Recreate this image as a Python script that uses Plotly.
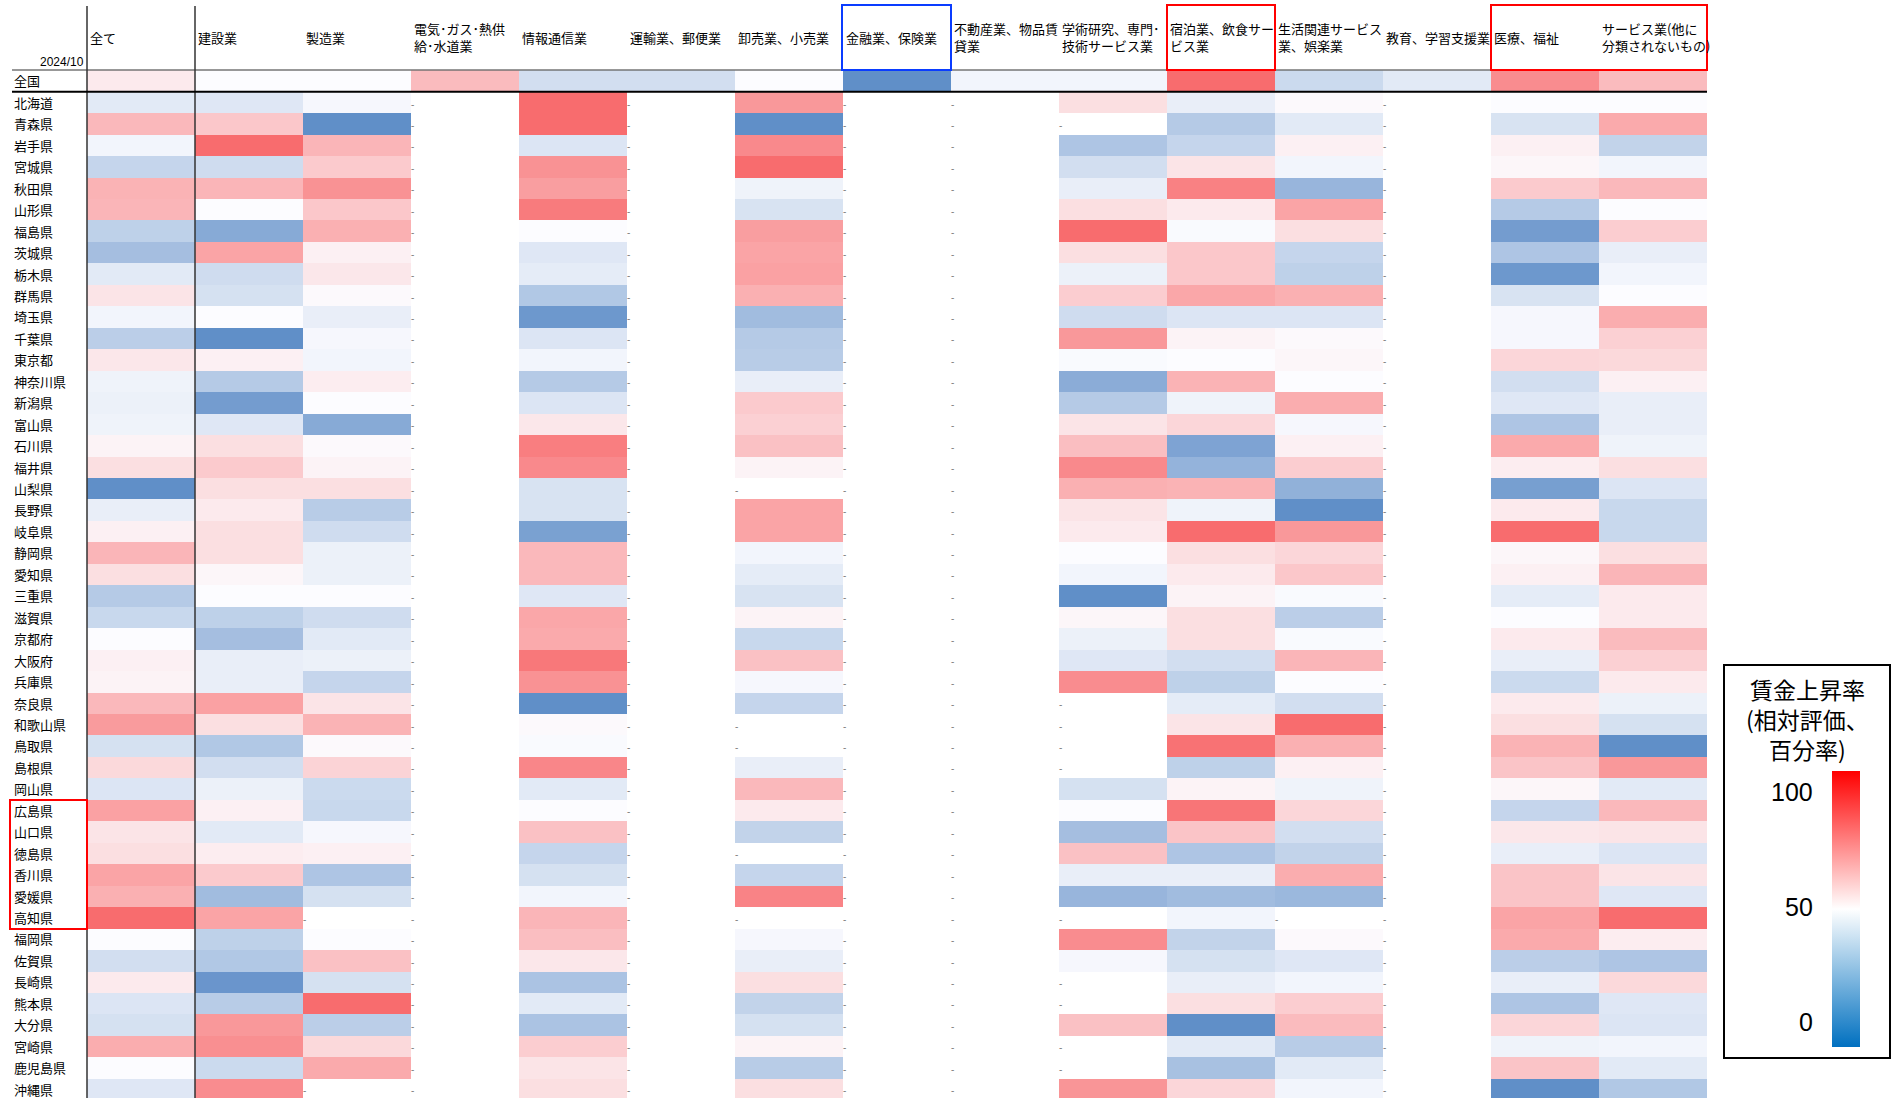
import plotly.graph_objects as go

W, H = 1894, 1098

industries = ["全て", "建設業", "製造業", "電気･ガス･熱供<br>給･水道業", "情報通信業",
              "運輸業、郵便業", "卸売業、小売業", "金融業、保険業", "不動産業、物品賃<br>貸業",
              "学術研究、専門･<br>技術サービス業", "宿泊業、飲食サー<br>ビス業",
              "生活関連サービス<br>業、娯楽業", "教育、学習支援業", "医療、福祉",
              "サービス業(他に<br>分類されないもの)"]

regions = ["全国", "北海道", "青森県", "岩手県", "宮城県", "秋田県", "山形県", "福島県", "茨城県",
           "栃木県", "群馬県", "埼玉県", "千葉県", "東京都", "神奈川県", "新潟県", "富山県",
           "石川県", "福井県", "山梨県", "長野県", "岐阜県", "静岡県", "愛知県", "三重県",
           "滋賀県", "京都府", "大阪府", "兵庫県", "奈良県", "和歌山県", "鳥取県", "島根県",
           "岡山県", "広島県", "山口県", "徳島県", "香川県", "愛媛県", "高知県", "福岡県",
           "佐賀県", "長崎県", "熊本県", "大分県", "宮崎県", "鹿児島県", "沖縄県"]

N = None
v_all = [56, 42, 73, 47, 33, 75, 74, 31, 23, 42, 58, 47, 30, 57, 46, 45, 46, 53, 60, 2, 44,
         54, 74, 60, 28, 34, 50, 54, 53, 73, 83, 38, 62, 40, 81, 58, 60, 80, 76, 99, 50,
         37, 56, 40, 38, 77, 50, 41]
v_construction = [50, 41, 68, 99, 36, 74, 50, 14, 80, 36, 38, 50, 2, 54, 28, 8, 41, 60, 67, 60, 56,
                  60, 60, 52, 50, 31, 23, 44, 44, 81, 60, 27, 37, 45, 54, 42, 55, 67, 22, 80, 31,
                  27, 5, 29, 84, 87, 35, 88]
v_manufacturing = [50, 48, 2, 74, 67, 86, 68, 76, 54, 57, 51, 44, 48, 47, 55, 50, 14, 51, 53, 60, 29,
                   36, 45, 45, 50, 36, 42, 45, 33, 58, 75, 51, 64, 35, 34, 48, 54, 26, 38, N, 50,
                   70, 38, 99, 30, 62, 78, N]
v_electricity = [72] + [N] * 47
v_info = [37, 99, 99, 40, 86, 82, 94, 50, 41, 43, 27, 6, 40, 47, 28, 40, 57, 93, 89, 39, 39,
          10, 73, 73, 41, 79, 78, 95, 86, 2, 51, 49, 90, 42, 50, 70, 33, 38, 47, 74, 71,
          57, 25, 42, 25, 66, 58, 60]
v_transport = [37] + [N] * 47
v_wholesale = [50, 84, 2, 89, 99, 46, 39, 82, 80, 81, 76, 22, 28, 29, 44, 67, 65, 70, 53, N, 80,
               80, 47, 43, 39, 53, 34, 70, 48, 33, N, N, 44, 73, 56, 32, N, 33, 91, N, 48,
               44, 60, 32, 38, 53, 29, 60]
v_finance = [2] + [N] * 47
v_realestate = [47] + [N] * 47
v_academic = [47, 60, N, 26, 37, 44, 60, 99, 60, 45, 66, 36, 84, 49, 15, 28, 58, 71, 89, 76, 58,
              56, 50, 47, 2, 52, 45, 41, 88, N, N, N, N, 38, 50, 23, 70, 44, 19, N, 88,
              48, N, N, 70, N, N, 85]
v_lodging = [99, 44, 28, 33, 58, 92, 56, 49, 68, 68, 79, 40, 53, 50, 75, 46, 63, 11, 18, 75, 46,
             99, 60, 56, 53, 60, 60, 37, 31, 43, 58, 97, 31, 53, 96, 69, 26, 44, 22, 47, 32,
             38, 44, 60, 2, 42, 24, 63]
v_lifestyle = [35, 51, 42, 54, 47, 19, 80, 60, 33, 31, 76, 40, 51, 52, 50, 77, 48, 54, 66, 17, 2,
               84, 63, 68, 49, 30, 49, 74, 50, 37, 99, 76, 54, 46, 63, 37, 32, 77, 20, N, 51,
               41, 47, 66, 72, 29, 42, 47]
v_education = [42] + [N] * 47
v_medical = [88, 50, 39, 54, 52, 67, 28, 8, 26, 6, 39, 48, 48, 63, 37, 41, 26, 78, 55, 9, 56,
             99, 52, 54, 43, 50, 56, 44, 35, 56, 60, 75, 69, 52, 33, 57, 44, 69, 69, 80, 78,
             30, 44, 26, 63, 46, 69, 2]
v_service = [72, 50, 78, 32, 47, 73, 50, 66, 44, 47, 50, 77, 65, 62, 54, 44, 44, 46, 60, 40, 34,
             34, 60, 74, 56, 56, 72, 65, 56, 45, 38, 2, 84, 42, 73, 58, 40, 58, 41, 99, 55,
             26, 62, 41, 40, 47, 42, 27]

columns = [v_all, v_construction, v_manufacturing, v_electricity, v_info, v_transport,
           v_wholesale, v_finance, v_realestate, v_academic, v_lodging, v_lifestyle,
           v_education, v_medical, v_service]

cb_ticks = [0, 50, 100]

nrows = len(regions)
ncols = len(industries)
z = [[columns[c][r] for c in range(ncols)] for r in range(nrows)]

# pixel helpers (layout only)
def px(x):
    return x / W

def py(y):
    return 1 - y / H

row_h = 21.45
top_px = 91.7 - row_h
left_px, right_px = 87, 1707
y_bottom = -0.5 + (H - top_px) / row_h

font_jp = "Noto Sans CJK JP, sans-serif"

fig = go.Figure()
fig.add_trace(go.Heatmap(
    z=z, x=list(range(ncols)), y=list(range(nrows)),
    zmin=0, zmax=100,
    colorscale=[[0, "#5A8AC6"], [0.5, "#FCFCFF"], [1, "#F8696B"]],
    showscale=False, xgap=0, ygap=0, hoverongaps=False,
))

# dashes for missing cells
dx, dy = [], []
for r in range(1, nrows):
    for c in range(ncols):
        if columns[c][r] is None:
            dx.append(c - 0.5)
            dy.append(r + 0.12)
fig.add_trace(go.Scatter(
    x=dx, y=dy, mode="text", text=["-"] * len(dx), textposition="middle right",
    textfont=dict(size=10, color="#7f7f7f", family="Liberation Sans"),
    showlegend=False, hoverinfo="skip",
))

# colorbar via invisible trace
fig.add_trace(go.Scatter(
    x=[0], y=[0], mode="markers", showlegend=False, hoverinfo="skip",
    marker=dict(size=1, opacity=0, color=[50], cmin=-11, cmax=109,
                colorscale=[[0, "#0070C0"], [0.5, "#FFFFFF"], [1, "#FF0000"]],
                showscale=True,
                colorbar=dict(x=px(1832), xanchor="left", y=py(771), yanchor="top",
                              len=276, lenmode="pixels", thickness=28, thicknessmode="pixels",
                              outlinewidth=0, showticklabels=False, ticks="",
                              xpad=0, ypad=0)),
))

fig.update_layout(
    width=W, height=H, autosize=False,
    margin=dict(l=0, r=0, t=0, b=0),
    paper_bgcolor="white", plot_bgcolor="white",
    xaxis=dict(domain=[px(left_px), px(right_px)], range=[-0.5, ncols - 0.5],
               showgrid=False, zeroline=False, showticklabels=False, ticks="", fixedrange=True),
    yaxis=dict(domain=[0, py(top_px)], range=[y_bottom, -0.5],
               showgrid=False, zeroline=False, showticklabels=False, ticks="", fixedrange=True),
    font=dict(family=font_jp, color="black"),
)

ann = []
# header labels
for c, name in enumerate(industries):
    ann.append(dict(x=c - 0.5, xref="x", xanchor="left", xshift=1,
                    y=py(37.5), yref="paper", yanchor="middle",
                    text=name, showarrow=False, align="left",
                    font=dict(size=13, family=font_jp, color="black")))
# row labels
for r, name in enumerate(regions):
    ann.append(dict(x=px(12), xref="paper", xanchor="left",
                    y=r, yref="y", yanchor="middle", text=name, showarrow=False,
                    font=dict(size=13, family=font_jp, color="black")))
ann.append(dict(x=px(86), xref="paper", xanchor="right", y=py(62), yref="paper",
                yanchor="middle", text="2024/10", showarrow=False,
                font=dict(size=12, family="Liberation Sans", color="black")))
# colorbar title & ticks
ann.append(dict(x=px(1807), xref="paper", xanchor="center", y=py(719), yref="paper",
                yanchor="middle", text="賃金上昇率<br>(相対評価、<br>百分率)", showarrow=False,
                align="center", font=dict(size=23, family=font_jp, color="black")))
for t in cb_ticks:
    ypix = 1047 - (t + 11) / 120 * 276
    ann.append(dict(x=px(1815), xref="paper", xanchor="right", y=py(ypix), yref="paper",
                    yanchor="middle", text=str(t), showarrow=False,
                    font=dict(size=25, family="Liberation Sans", color="black")))
fig.update_layout(annotations=ann)

shapes = []
def line(x0, y0, x1, y1, w=1.5, color="black"):
    shapes.append(dict(type="line", xref="paper", yref="paper",
                       x0=px(x0), y0=py(y0), x1=px(x1), y1=py(y1),
                       line=dict(color=color, width=w)))
def rect(x0, y0, x1, y1, color, w=2):
    shapes.append(dict(type="rect", xref="paper", yref="paper",
                       x0=px(x0), y0=py(y0), x1=px(x1), y1=py(y1),
                       line=dict(color=color, width=w), fillcolor="rgba(0,0,0,0)"))

line(87, 6, 87, H, 1.5, "#333333")
line(195, 6, 195, H, 1.5, "#333333")
line(12, 70, right_px, 70, 1.2, "#333333")
line(12, 91.7, right_px, 91.7, 2, "black")
rect(842, 5, 951, 70, "#0A3CFF")
rect(1167, 5, 1275, 70, "#FF0000")
rect(1491, 5, 1707, 70, "#FF0000")
rect(10, 800, 87, 929, "#FF0000")
rect(1724, 665, 1890, 1058, "black")
fig.update_layout(shapes=shapes)

fig.write_html("out.html",
               config={"displayModeBar": False, "staticPlot": True},
               post_script="document.body.style.margin='0px';document.body.style.padding='0px';"
                           "document.body.style.overflow='hidden';")
